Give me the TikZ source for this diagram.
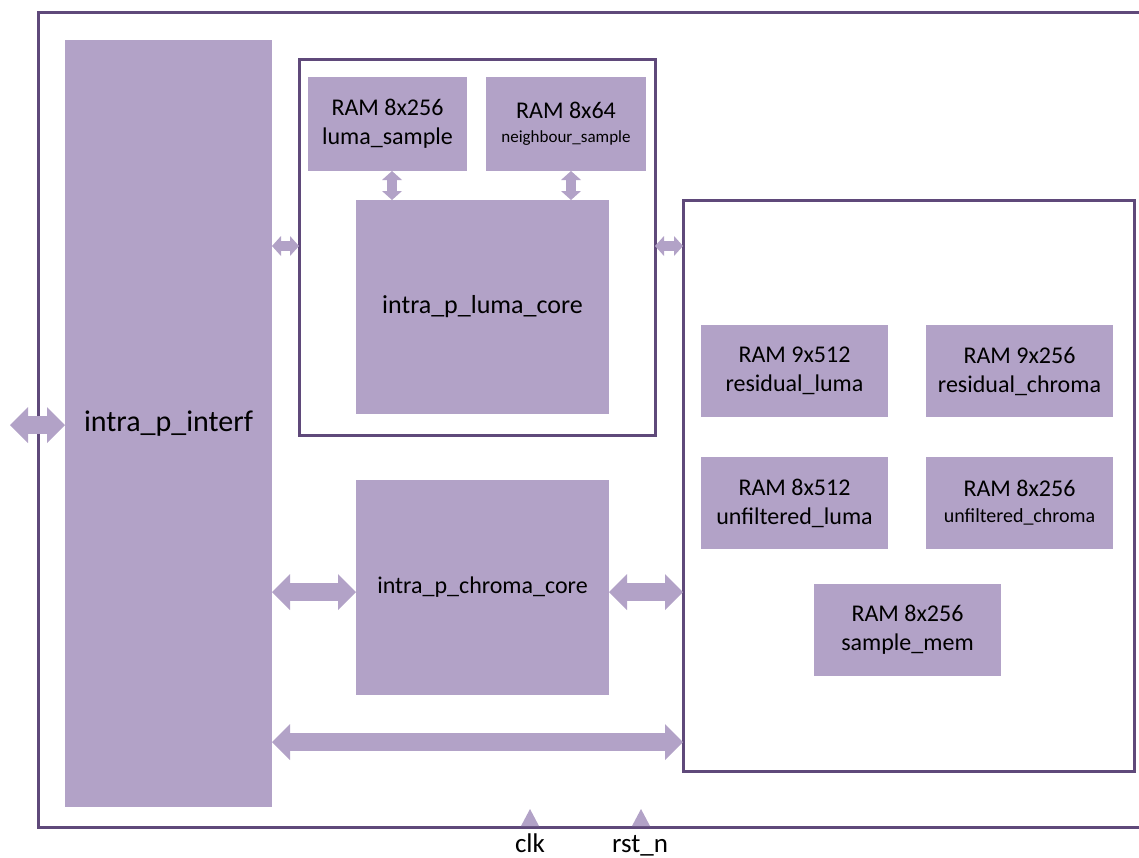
\documentclass[tikz,border=0pt]{standalone}
\usepackage{fontspec}
\setmainfont{Carlito}
\usetikzlibrary{arrows.meta}
\definecolor{blockfill}{HTML}{B2A2C7}
\definecolor{frameline}{HTML}{5F497A}

\begin{document}
\begin{tikzpicture}[x=1pt,y=-1pt,
  block/.style={fill=blockfill, inner sep=0pt, outer sep=0pt, anchor=north west,
                align=center, text=black, font=\fontsize{24}{29}\selectfont},
  group/.style={draw=frameline, line width=3pt, inner sep=0pt, outer sep=0pt, anchor=north west},
  bigbus/.style={draw=blockfill, line width=18pt,
    {Triangle[width=36pt,length=18pt,line width=0pt]}-{Triangle[width=36pt,length=18pt,line width=0pt]}},
  smallbus/.style={draw=blockfill, line width=10pt,
    {Triangle[width=20pt,length=9pt,line width=0pt]}-{Triangle[width=20pt,length=9pt,line width=0pt]}},
  pinlabel/.style={font=\fontsize{27}{31}\selectfont, inner sep=0pt, anchor=base}]

\useasboundingbox (0,0) rectangle (1139,857);

% enclosing module outline (open on the right)
\draw[draw=frameline, line width=3pt] (1139,12) -- (38,12) -- (38,827) -- (1139,827);

% interface block
\node[block, minimum width=207pt, minimum height=767pt, font=\fontsize{30}{34}\selectfont]
  (interf) at (65,40) {\raisebox{-4pt}{intra\_p\_interf}};

% luma predictor group
\node[group, minimum width=356pt, minimum height=376pt] (lgrp) at (299,59) {};
\node[block, minimum width=159pt, minimum height=94pt] (ls) at (308,77)
  {RAM 8x256\\luma\_sample};
\node[block, minimum width=160pt, minimum height=94pt] (ns) at (486,77)
  {RAM 8x64\\[-5pt]{\fontsize{17}{20}\selectfont neighbour\_sample}};
\node[block, minimum width=253pt, minimum height=214pt, font=\fontsize{26}{30}\selectfont]
  (lcore) at (356,200) {intra\_p\_luma\_core};

% chroma predictor
\node[block, minimum width=253pt, minimum height=215pt] (ccore) at (356,480)
  {intra\_p\_chroma\_core};

% shared memory group
\node[group, minimum width=451pt, minimum height=571pt] (rgrp) at (683,200) {};
\node[block, minimum width=187pt, minimum height=92pt] (rl) at (701,325)
  {RAM 9x512\\residual\_luma};
\node[block, minimum width=187pt, minimum height=92pt] (rc) at (926,325)
  {RAM 9x256\\residual\_chroma};
\node[block, minimum width=187pt, minimum height=92pt] (ul) at (701,457)
  {RAM 8x512\\unfiltered\_luma};
\node[block, minimum width=187pt, minimum height=92pt] (uc) at (926,457)
  {RAM 8x256\\[-3pt]{\fontsize{20}{23}\selectfont unfiltered\_chroma}};
\node[block, minimum width=187pt, minimum height=92pt] (sm) at (814,584)
  {RAM 8x256\\sample\_mem};

% guide coordinates for bus positions
\coordinate (ext) at (10,425);
\coordinate (ya) at (0,246);
\coordinate (yb) at (0,592);
\coordinate (yc) at (0,742);
\coordinate (xa) at (392,0);
\coordinate (xb) at (571,0);

% buses
\draw[bigbus] (ext) -- (ext -| interf.west);
\draw[smallbus] (interf.east |- ya) -- (lgrp.west |- ya);
\draw[smallbus] (lgrp.east |- ya) -- (rgrp.west |- ya);
\draw[smallbus] (ls.south -| xa) -- (lcore.north -| xa);
\draw[smallbus] (ns.south -| xb) -- (lcore.north -| xb);
\draw[bigbus] (interf.east |- yb) -- (ccore.west |- yb);
\draw[bigbus] (ccore.east |- yb) -- (rgrp.west |- yb);
\draw[bigbus] (interf.east |- yc) -- (rgrp.west |- yc);

% clock and reset pins
\node[pinlabel] (clk) at (530,852) {clk};
\node[pinlabel] (rst) at (640,852) {rst\_n};
\fill[blockfill] (521,826) -- (530,809) -- (539,826) -- cycle;
\fill[blockfill] (632,826) -- (641,809) -- (650,826) -- cycle;
\end{tikzpicture}
\end{document}
